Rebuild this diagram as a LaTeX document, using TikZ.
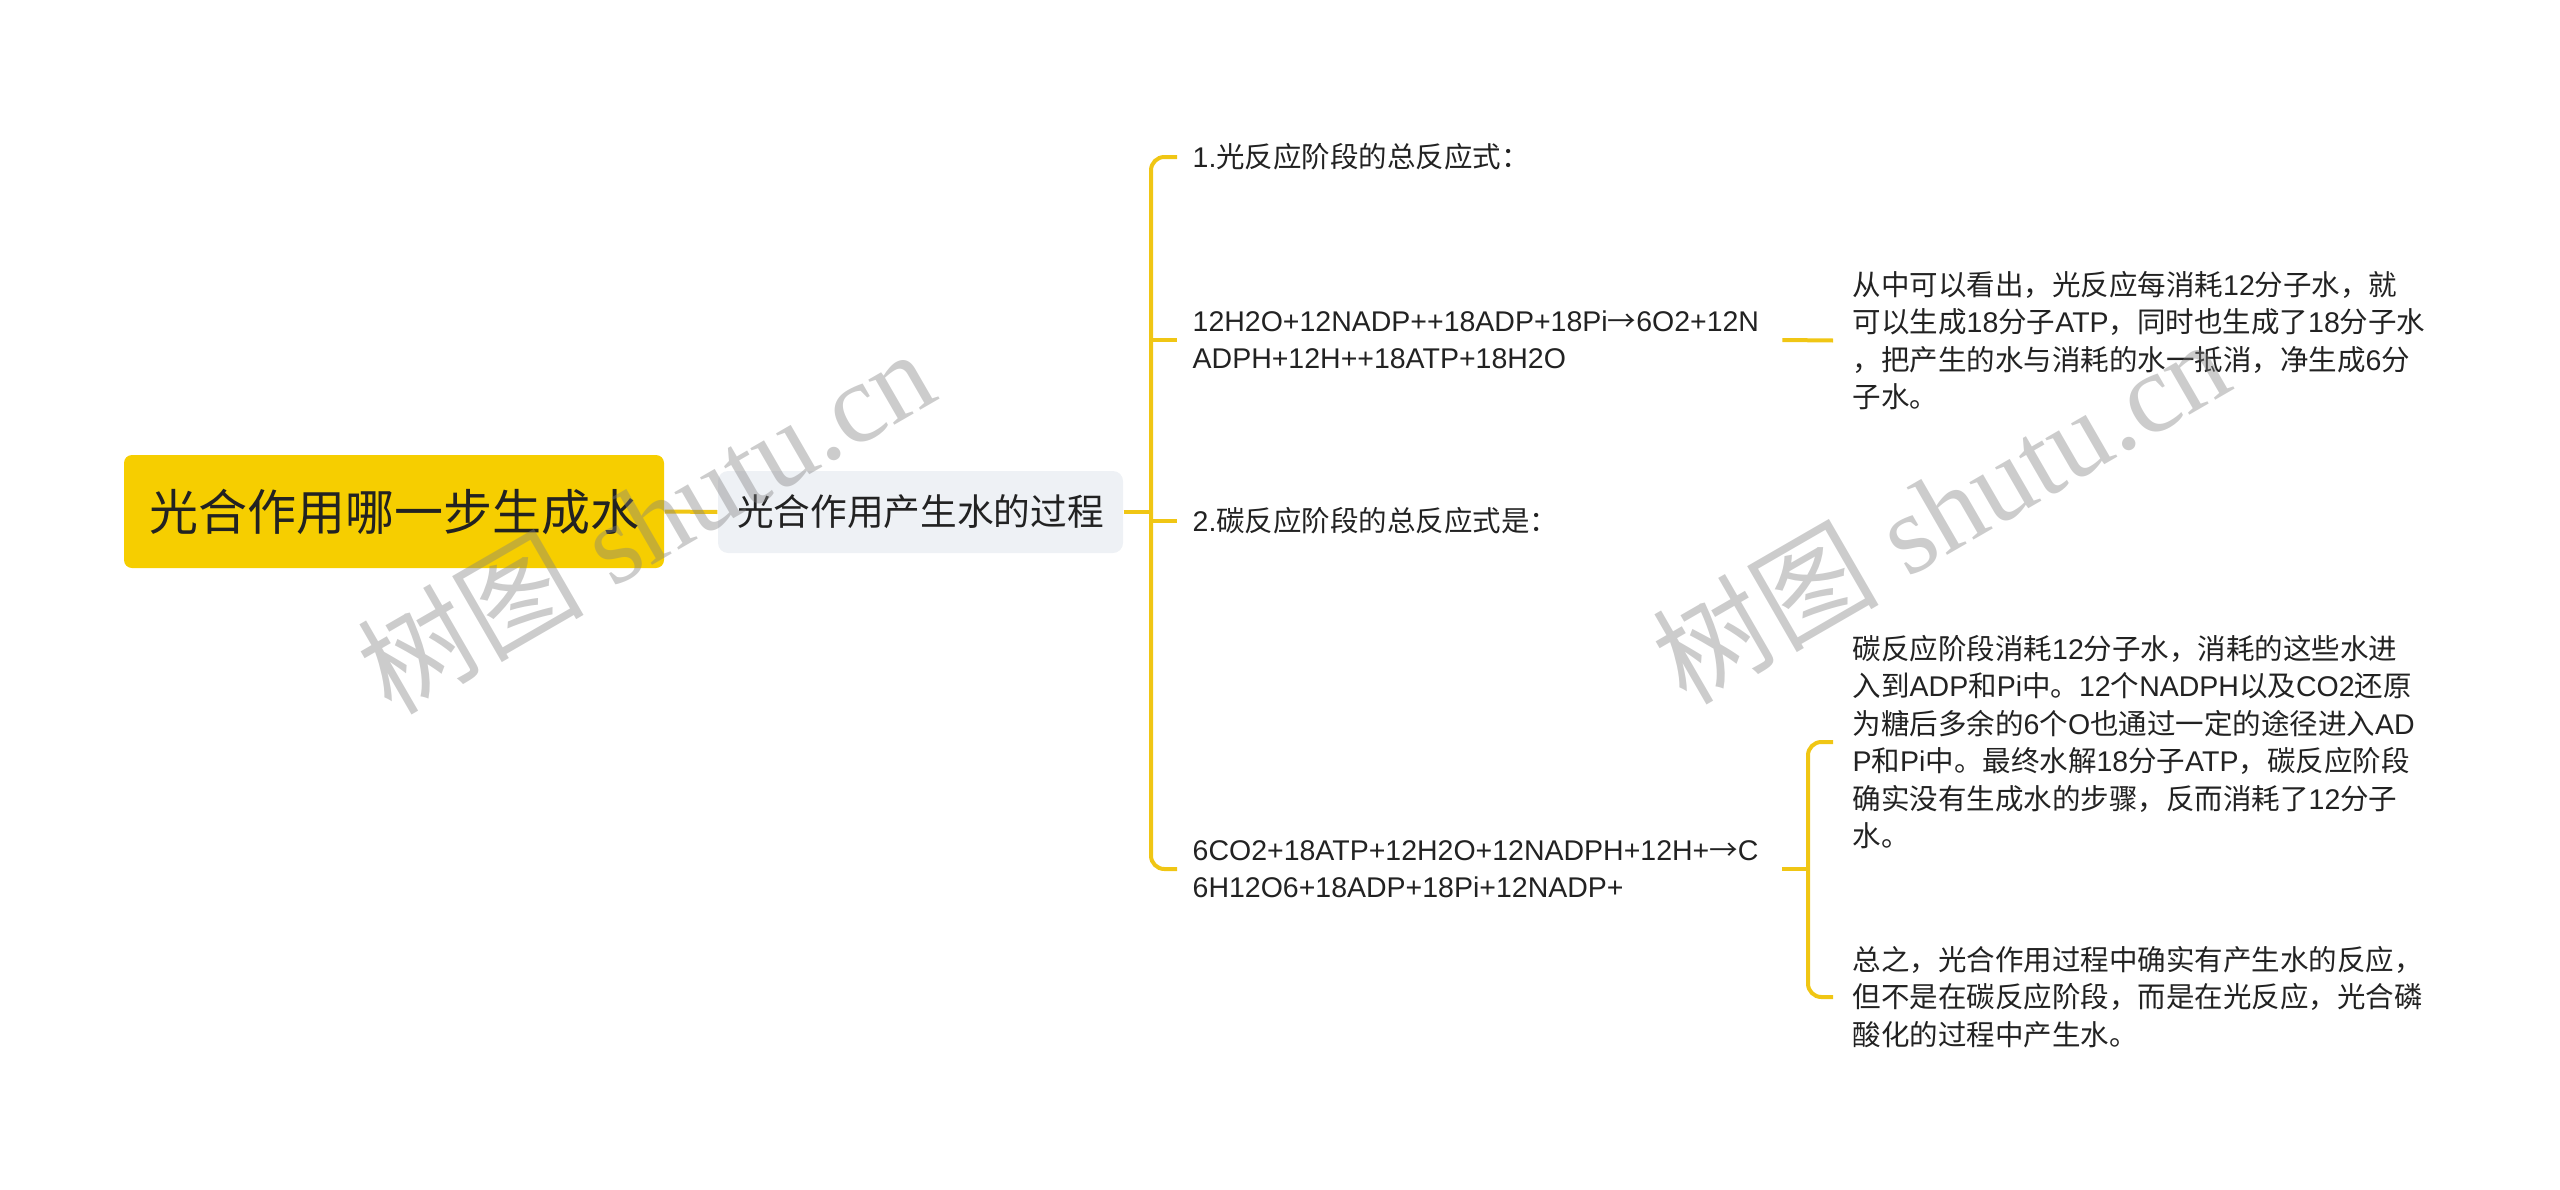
\documentclass[tikz,border=0pt]{standalone}
\usepackage{fontspec}
\setmainfont{Liberation Sans}
\newfontfamily\cjkfont{Noto Sans CJK SC}
\newfontfamily\wmlatin{Liberation Serif}
\def\latinfam{\rmfamily}
\makeatletter
\XeTeXinterchartokenstate=1
\newXeTeXintercharclass\cjkclass
\XeTeXcharclass"2192=\cjkclass
\count@="3000
\loop
  \XeTeXcharclass\count@=\cjkclass
  \ifnum\count@<"303F \advance\count@ 1 \repeat
\count@="4E00
\loop
  \XeTeXcharclass\count@=\cjkclass
  \ifnum\count@<"9FFF \advance\count@ 1 \repeat
\count@="FF00
\loop
  \XeTeXcharclass\count@=\cjkclass
  \ifnum\count@<"FFEF \advance\count@ 1 \repeat
\makeatother
\XeTeXinterchartoks 0 \cjkclass = {\cjkfont}
\XeTeXinterchartoks 4095 \cjkclass = {\cjkfont}
\XeTeXinterchartoks \cjkclass 0 = {\latinfam}
\XeTeXinterchartoks \cjkclass 4095 = {\latinfam}
\definecolor{lineyellow}{RGB}{240,198,20}
\definecolor{rootfill}{RGB}{246,206,0}
\definecolor{subfill}{RGB}{238,241,245}
\definecolor{txt}{RGB}{34,34,34}
\begin{document}
\begin{tikzpicture}[x=0.3pt,y=-0.3pt,
  rootbox/.style={fill=rootfill,rounded corners=2.4pt,minimum width=162pt,minimum height=33.9pt,
    inner sep=0pt,text=txt,font=\fontsize{14.7pt}{18pt}\selectfont},
  subbox/.style={fill=subfill,rounded corners=3pt,minimum width=121.5pt,minimum height=24.6pt,
    inner sep=0pt,text=txt,font=\fontsize{11pt}{14pt}\selectfont},
  leaf/.style={anchor=west,inner xsep=4.5pt,inner ysep=0pt,align=left,text=txt,
    font=\fontsize{8.55pt}{11.1pt}\selectfont},
  note/.style={anchor=west,inner xsep=5.7pt,inner ysep=0pt,align=left,text=txt,
    font=\fontsize{8.55pt}{11.25pt}\selectfont},
  conn/.style={draw=lineyellow,line width=1.2pt},
  wm/.style={rotate=30,text=black!50,opacity=0.4,inner sep=0pt,
    font=\fontsize{34pt}{40pt}\selectfont\def\latinfam{\wmlatin}}
]
\useasboundingbox (0,0) rectangle (2560,1190);

\node[rootbox] (root) at (394,511.5) {光合作用哪一步生成水};
\node[subbox] (sub) at (920.5,512) {光合作用产生水的过程};

\node[leaf] (t1) at (1177,157) {1.光反应阶段的总反应式：};
\node[leaf,text width=172.2pt] (t2) at (1177,340) {12H2O+12NADP++18ADP+18Pi→6O2+12N\\ADPH+12H++18ATP+18H2O};
\node[leaf] (t3) at (1177,521) {2.碳反应阶段的总反应式是：};
\node[leaf,text width=172.2pt] (t4) at (1177,869) {6CO2+18ATP+12H2O+12NADPH+12H+→C\\6H12O6+18ADP+18Pi+12NADP+};

\node[note] (r1) at (1833,340.5) {从中可以看出，光反应每消耗12分子水，就\\可以生成18分子ATP，同时也生成了18分子水\\，把产生的水与消耗的水一抵消，净生成6分\\子水。};
\node[note] (r2) at (1833,742) {碳反应阶段消耗12分子水，消耗的这些水进\\入到ADP和Pi中。12个NADPH以及CO2还原\\为糖后多余的6个O也通过一定的途径进入AD\\P和Pi中。最终水解18分子ATP，碳反应阶段\\确实没有生成水的步骤，反而消耗了12分子\\水。};
\node[note] (r3) at (1833,997) {总之，光合作用过程中确实有产生水的反应，\\但不是在碳反应阶段，而是在光反应，光合磷\\酸化的过程中产生水。};

\coordinate (b1) at (1151,512);
\coordinate (b2) at (1808,869);

\draw[conn] (root.east) -- (sub.west);
\draw[conn] (sub.east) -- (b1);
\draw[conn,rounded corners=4pt] (t1.west) -- (t1.west -| b1) -- (t4.west -| b1) -- (t4.west);
\draw[conn] (t2.west -| b1) -- (t2.west);
\draw[conn] (t3.west -| b1) -- (t3.west);

\draw[conn] (t2.east) -- (r1.west);

\draw[conn] (t4.east) -- (b2);
\draw[conn,rounded corners=4pt] (r2.west) -- (r2.west -| b2) -- (r3.west -| b2) -- (r3.west);

\node[wm] (wm1) at (645,520) {树图 shutu.cn};
\node[wm] (wm2) at (1940,510) {树图 shutu.cn};
\end{tikzpicture}
\end{document}
